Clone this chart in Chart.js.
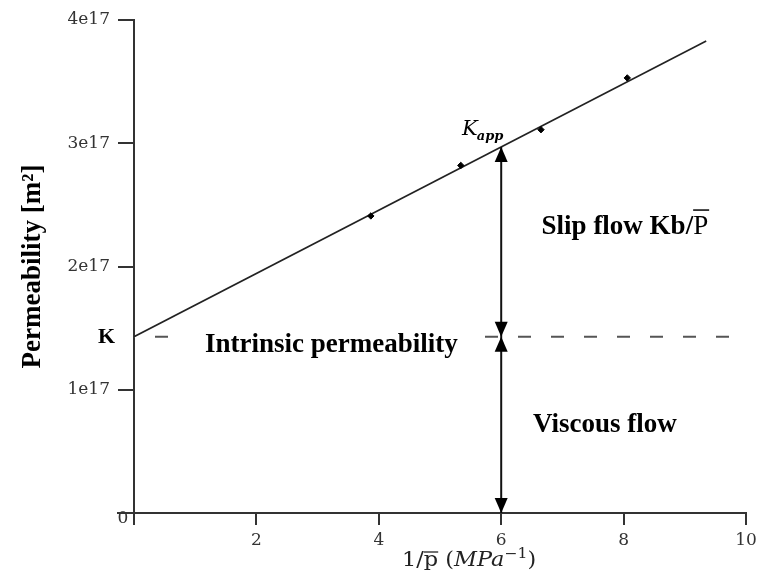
<!DOCTYPE html>
<html><head><meta charset="utf-8">
<script src="https://cdn.jsdelivr.net/npm/chart.js@4/dist/chart.umd.min.js"></script>
<style>html,body{margin:0;padding:0;background:#fff}#wrap{width:766px;height:574px}</style>
</head><body><div id="wrap"><canvas id="c" width="766" height="574"></canvas></div>
<script>
// measured points (1/p [MPa^-1], permeability)
const pointsX = [3.87, 5.34, 6.65, 8.06];
const pointsY = [2.41e17, 2.82e17, 3.11e17, 3.53e17];
// fitted straight line
const fitX = [0, 9.35];
const fitY = [1.43e17, 3.83e17];
// intrinsic permeability K (dashed line)
const intrinsicX = [0, 9.75];
const intrinsicK = 1.43e17;
// apparent permeability at 1/p = 6
const arrowX = 6;
const kApp = 2.97e17;
// ticks
const xTicks = [0, 2, 4, 6, 8, 10];
const yTicks = [0, 1e17, 2e17, 3e17, 4e17];
const yTickLabels = ['', '1e17', '2e17', '3e17', '4e17'];

const TICK_FONT = {family: '"DejaVu Serif"', size: 17};

const annot = {
  id: 'annot',
  afterDraw(chart) {
    const {ctx, scales: {x, y}} = chart;
    const X = v => x.getPixelForValue(v), Y = v => y.getPixelForValue(v);
    ctx.save();
    // axis spine extensions
    ctx.strokeStyle = '#333'; ctx.lineWidth = 2;
    ctx.beginPath();
    ctx.moveTo(X(0) - 17, Y(0)); ctx.lineTo(X(0), Y(0));
    ctx.moveTo(X(0), Y(0)); ctx.lineTo(X(0), Y(0) + 7);
    ctx.stroke();

    // white gap in dashed line behind the label
    ctx.font = 'bold 27px "Liberation Serif"';
    ctx.textBaseline = 'middle'; ctx.textAlign = 'left';
    const t1 = 'Intrinsic permeability';
    const w1 = ctx.measureText(t1).width;
    const tx1 = X(1.16), ty1 = Y(1.36e17);
    ctx.fillStyle = '#fff';
    ctx.fillRect(tx1 - 22, Y(intrinsicK) - 4, w1 + 48, 8);
    ctx.fillStyle = '#000';
    ctx.fillText(t1, tx1, ty1);

    ctx.fillText('Viscous flow', X(6.52), Y(0.715e17));
    const t2 = 'Slip flow Kb/';
    const tx2 = X(6.66), ty2 = Y(2.32e17);
    ctx.fillText(t2, tx2, ty2);
    const w2 = ctx.measureText(t2).width;
    ctx.font = '27px "Liberation Serif"';
    ctx.fillText('P', tx2 + w2, ty2);
    const wp = ctx.measureText('P').width;
    ctx.lineWidth = 1.5; ctx.strokeStyle = '#000';
    ctx.beginPath(); ctx.moveTo(tx2 + w2, ty2 - 17); ctx.lineTo(tx2 + w2 + wp + 1, ty2 - 17); ctx.stroke();

    // K label on the axis
    ctx.font = 'bold 22px "Liberation Serif"';
    ctx.textAlign = 'right';
    ctx.fillText('K', X(0) - 19, Y(intrinsicK) + 1);

    // K_app label
    ctx.textAlign = 'left';
    ctx.font = 'italic 21px "DejaVu Serif"';
    const kx = X(5.36), ky = Y(3.11e17);
    ctx.fillText('K', kx, ky);
    const wk = ctx.measureText('K').width;
    ctx.font = 'bold italic 13px "DejaVu Serif"';
    ctx.fillText('app', kx + wk - 1, ky + 7);

    // vertical double arrows
    const ax = X(arrowX);
    ctx.strokeStyle = '#111'; ctx.lineWidth = 2;
    ctx.beginPath(); ctx.moveTo(ax, Y(kApp)); ctx.lineTo(ax, Y(0)); ctx.stroke();
    ctx.fillStyle = '#000';
    const head = (tipY, dir) => {
      ctx.beginPath();
      ctx.moveTo(ax, tipY);
      ctx.lineTo(ax - 6.5, tipY - dir * 15);
      ctx.lineTo(ax + 6.5, tipY - dir * 15);
      ctx.closePath(); ctx.fill();
    };
    head(Y(kApp), -1); head(Y(intrinsicK), 1); head(Y(intrinsicK), -1); head(Y(0), 1);

    // origin "0"
    ctx.font = '17px "DejaVu Serif"'; ctx.fillStyle = '#333';
    ctx.textAlign = 'center';
    ctx.fillText('0', X(0) - 11, Y(0) + 6);

    // x axis title: 1/p̄ (MPa^-1), slightly widened like the reference
    ctx.fillStyle = '#222'; ctx.textAlign = 'left'; ctx.textBaseline = 'alphabetic';
    ctx.translate(X(4.38), 566);
    ctx.scale(1.12, 1);
    let cx = 0;
    const piece = (txt, font, dy = 0) => { ctx.font = font; ctx.fillText(txt, cx, dy); const w = ctx.measureText(txt).width; cx += w; return w; };
    const R = '20px "DejaVu Serif"', I = 'italic 20px "DejaVu Serif"';
    piece('1/', R);
    const px0 = cx; const wpp = piece('p', R);
    ctx.strokeStyle = '#222'; ctx.lineWidth = 1.3;
    ctx.beginPath(); ctx.moveTo(px0, -14); ctx.lineTo(px0 + wpp, -14); ctx.stroke();
    piece(' (', R);
    piece('MPa', I);
    piece('\u22121', '14px "DejaVu Serif"', -8);
    piece(')', R);
    ctx.restore();
  }
};

new Chart(document.getElementById('c'), {
  type: 'scatter',
  data: {
    datasets: [
      {
        data: pointsX.map((v, i) => ({x: v, y: pointsY[i]})),
        pointStyle: 'rectRot', pointRadius: 3.2,
        backgroundColor: '#000', borderColor: '#000', showLine: false, order: 1
      },
      {
        data: fitX.map((v, i) => ({x: v, y: fitY[i]})),
        showLine: true, pointRadius: 0, borderColor: '#222', borderWidth: 1.6, order: 2
      },
      {
        data: intrinsicX.map(v => ({x: v, y: intrinsicK})),
        showLine: true, pointRadius: 0, borderColor: '#555', borderWidth: 2,
        borderDash: [13, 20], borderDashOffset: 12, order: 3
      }
    ]
  },
  options: {
    responsive: false, animation: false, devicePixelRatio: 1,
    layout: {padding: {top: 20, right: 20, left: 0, bottom: 0}},
    plugins: {legend: {display: false}, tooltip: {enabled: false}},
    scales: {
      x: {
        type: 'linear', min: 0, max: 10,
        afterBuildTicks: s => { s.ticks = xTicks.map(v => ({value: v})); },
        afterFit: s => { s.height = 61; },
        ticks: {font: TICK_FONT, color: '#333', padding: 5, maxRotation: 0,
                callback: v => (v === 0 ? '' : String(v))},
        grid: {drawOnChartArea: false, drawTicks: true, tickLength: 12, color: '#333', lineWidth: 2},
        border: {display: true, color: '#333', width: 2}
      },
      y: {
        type: 'linear', min: 0, max: 4e17,
        afterBuildTicks: s => { s.ticks = yTicks.map(v => ({value: v})); },
        afterFit: s => { s.width = 134; },
        ticks: {font: TICK_FONT, color: '#333', padding: 8,
                callback: v => yTickLabels[yTicks.indexOf(v)] ?? ''},
        grid: {drawOnChartArea: false, drawTicks: true, tickLength: 16, color: '#333', lineWidth: 2},
        border: {display: true, color: '#333', width: 2},
        title: {display: true, text: 'Permeability [m²]', color: '#000',
                font: {family: '"Liberation Serif"', size: 27, weight: 'bold'},
                padding: {top: 17, bottom: 0}}
      }
    }
  },
  plugins: [annot]
});
</script>
</body></html>
